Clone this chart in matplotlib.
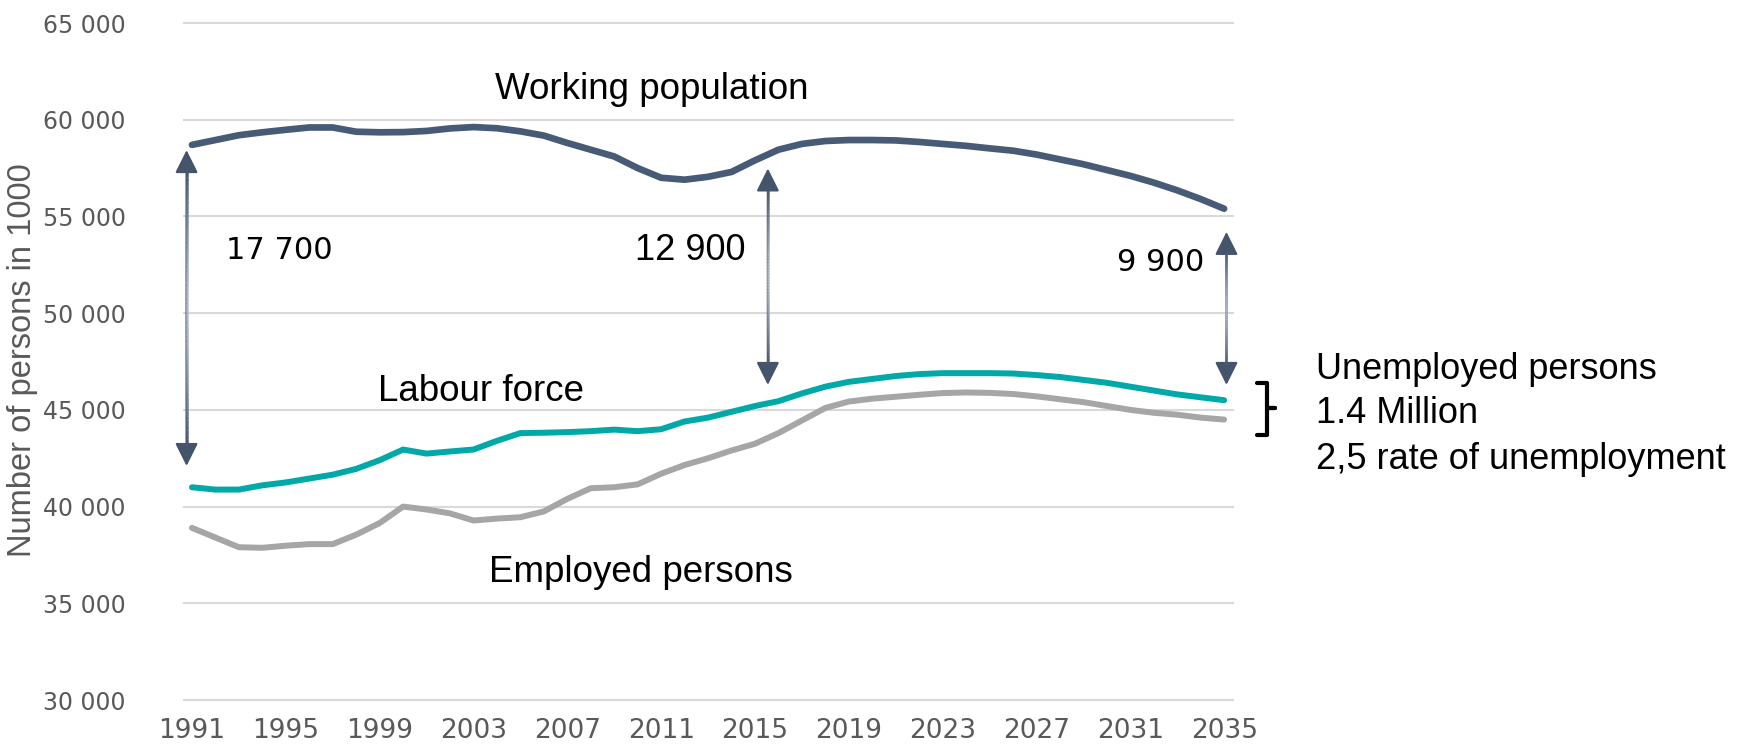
import matplotlib
matplotlib.use("Agg")
import matplotlib.pyplot as plt
import numpy as np
from matplotlib.collections import LineCollection
from matplotlib.path import Path
from matplotlib.patches import PathPatch
from matplotlib.ticker import FuncFormatter

years = list(range(1991, 2036))

working_population = [
    58700, 58950, 59200, 59350, 59480, 59600, 59600, 59380, 59350, 59360,
    59420, 59550, 59620, 59560, 59400, 59180, 58800, 58450, 58100, 57500,
    57000, 56900, 57050, 57300, 57900, 58450, 58750, 58900, 58950, 58950,
    58930, 58850, 58750, 58650, 58520, 58400, 58200, 57950, 57700, 57400,
    57100, 56750, 56350, 55900, 55400]

labour_force = [
    41000, 40880, 40880, 41100, 41250, 41450, 41650, 41950, 42400, 42950,
    42740, 42850, 42950, 43400, 43800, 43820, 43850, 43900, 43980, 43900,
    44000, 44400, 44600, 44900, 45200, 45450, 45850, 46200, 46450, 46600,
    46750, 46850, 46900, 46900, 46900, 46880, 46800, 46700, 46550, 46400,
    46200, 46000, 45800, 45650, 45500]

employed = [
    38900, 38400, 37900, 37870, 37980, 38060, 38060, 38550, 39150, 40000,
    39850, 39650, 39280, 39380, 39450, 39750, 40400, 40950, 41000, 41150,
    41700, 42150, 42500, 42900, 43250, 43800, 44450, 45100, 45430, 45580,
    45680, 45780, 45870, 45900, 45880, 45820, 45700, 45550, 45400, 45200,
    45000, 44850, 44750, 44600, 44500]

tick_years = list(range(1991, 2036, 4))
y_ticks = list(range(30000, 65001, 5000))

gaps = ["17 700", "12 900", "9 900"]
unemployed_text = ["Unemployed persons", "1.4 Million", "2,5 rate of unemployment"]

C_WP = "#475A76"
C_LF = "#00A9A8"
C_EM = "#A6A6A6"
C_GRID = "#D9D9D9"
C_TICK = "#595959"

fig = plt.figure(figsize=(17.49, 7.52), dpi=100)
ax = fig.add_axes([0.1052, 0.0691, 0.5998, 0.9003])

ax.plot(years, working_population, color=C_WP, lw=4.8, solid_capstyle="round",
        solid_joinstyle="round", zorder=3)
ax.plot(years, labour_force, color=C_LF, lw=4.3, solid_capstyle="round",
        solid_joinstyle="round", zorder=3)
ax.plot(years, employed, color=C_EM, lw=4.3, solid_capstyle="round",
        solid_joinstyle="round", zorder=3)

ax.set_xlim(1990.66, 2035.38)
ax.set_ylim(30000, 65000)
ax.set_xticks(tick_years)
ax.set_yticks(y_ticks)
ax.yaxis.set_major_formatter(FuncFormatter(lambda v, p: f"{int(v):,}".replace(",", " ")))
ax.grid(axis="y", color=C_GRID, lw=1.5)
ax.grid(axis="x", visible=False)
for s in ax.spines.values():
    s.set_visible(False)
ax.tick_params(axis="both", length=0)
ax.tick_params(axis="y", pad=42, labelsize=17, labelcolor=C_TICK)
ax.tick_params(axis="x", pad=13, labelsize=19, labelcolor=C_TICK)
for gl in ax.get_ygridlines():
    gl.set_clip_on(False)

ax.set_ylabel("Number of persons in 1000", fontsize=23.5, color=C_TICK,
              family=["Liberation Sans", "DejaVu Sans"])
ax.yaxis.set_label_coords(-0.139, 0.502)

# double arrows
def double_arrow(x, y0, y1):
    ax.annotate("", xy=(x, y1), xytext=(x, y0),
                arrowprops=dict(arrowstyle="<|-|>,head_length=1.0,head_width=0.5",
                                mutation_scale=14, color="#44546A", lw=1.6,
                                shrinkA=0, shrinkB=0), zorder=4)
    n = 60
    ys = np.linspace(y0 + 900, y1 - 900, n + 1)
    segs = [[(x, ys[i]), (x, ys[i + 1])] for i in range(n)]
    t = np.abs(np.linspace(-1, 1, n))
    dark = np.array([0x44, 0x54, 0x6A]) / 255
    light = np.array([0xB4, 0xBE, 0xCB]) / 255
    cols = [tuple(light + (dark - light) * ti ** 1.5) for ti in t]
    ax.add_collection(LineCollection(segs, colors=cols, linewidths=1.8, zorder=5))

double_arrow(1990.77, 42100, 58430)
double_arrow(2015.55, 46290, 57480)
double_arrow(2035.1, 46290, 54200)

TF = ["Liberation Sans", "DejaVu Sans"]
ax.text(2010.6, 61570, "Working population", ha="center", va="center", fontsize=26.5, family=TF)
ax.text(2003.3, 45960, "Labour force", ha="center", va="center", fontsize=26.5, family=TF)
ax.text(2010.15, 36600, "Employed persons", ha="center", va="center", fontsize=26.5, family=TF)

ax.text(1992.45, 53220, gaps[0], ha="left", va="center", fontsize=22, family="DejaVu Sans")
ax.text(2014.6, 53220, gaps[1], ha="right", va="center", fontsize=26, family=TF)
ax.text(2030.45, 52600, gaps[2], ha="left", va="center", fontsize=22, family="DejaVu Sans")

for yy, txt in zip([47100, 44830, 42450], unemployed_text):
    ax.text(2038.93, yy, txt, ha="left", va="center", fontsize=26, family=TF, clip_on=False)

# bracket "}"
bx0, bx1, bx2 = 2036.42, 2036.84, 2037.15
by0, by1, by2 = 46400, 45100, 43710
verts = [(bx0, by0), (bx1, by0), (bx1, by1), (bx2, by1), (bx1, by1), (bx1, by2), (bx0, by2)]
codes = [Path.MOVETO] + [Path.LINETO] * 6
ax.add_patch(PathPatch(Path(verts, codes), fill=False, lw=3, edgecolor="black",
                       capstyle="round", joinstyle="round", clip_on=False))

fig.savefig("out.png", dpi=100)
